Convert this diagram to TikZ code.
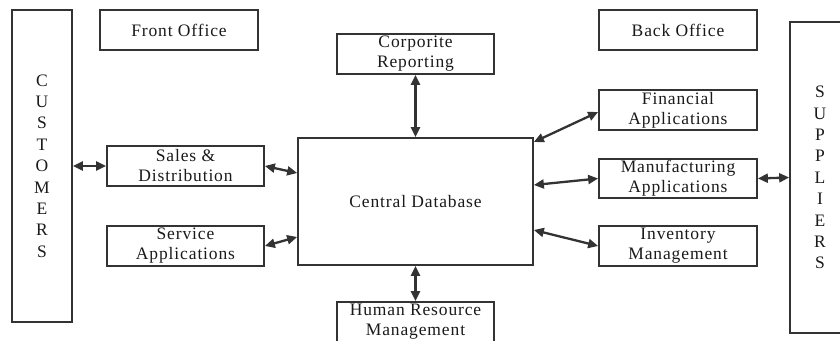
\documentclass[tikz,border=0pt]{standalone}
\usepackage{fontspec}
\setmainfont[LetterSpace=5]{Liberation Serif}
\usetikzlibrary{arrows.meta}
\definecolor{ln}{HTML}{333333}
\definecolor{tx}{HTML}{1A1A1A}
\begin{document}
\begin{tikzpicture}[x=1pt,y=-1pt,
  box/.style={draw=ln,line width=1.7pt,fill=white,inner sep=0pt,align=center,text=tx,
    font=\fontsize{17.5}{20}\selectfont},
  wbox/.style={box,minimum width=157pt,minimum height=40pt},
  vbox/.style={box,minimum width=60pt,font=\fontsize{17.5}{21.4}\selectfont},
  link/.style={draw=ln,line width=2.3pt,{Triangle[length=10pt,width=9pt]}-{Triangle[length=10pt,width=9pt]}}]
\useasboundingbox (0,0) rectangle (840,340);
\clip (0,0) rectangle (840,340);
\node[vbox,minimum height=312pt] (cust) at (42,166) {C\\U\\S\\T\\O\\M\\E\\R\\S};
\node[wbox,minimum width=158pt] (front) at (179,30) {Front Office};
\node[wbox] (sales) at (185.5,166) {Sales \&\\Distribution};
\node[wbox] (service) at (185.5,246) {Service\\Applications};
\node[box,minimum width=235pt,minimum height=127pt] (central) at (415.5,201.5) {Central Database};
\node[wbox] (corp) at (415.5,54) {Corporite\\Reporting};
\node[wbox] (hr) at (415.5,322) {Human Resource\\Management};
\node[wbox,minimum width=158pt] (back) at (678,30) {Back Office};
\node[wbox,minimum width=158pt] (fin) at (678,110) {Financial\\Applications};
\node[wbox,minimum width=158pt,minimum height=39pt] (manu) at (678,178.5) {Manufacturing\\Applications};
\node[wbox,minimum width=158pt] (inv) at (678,246) {Inventory\\Management};
\node[vbox,minimum height=311pt] (supp) at (820,177.5) {S\\U\\P\\P\\L\\I\\E\\R\\S};
\draw[link] (cust.east) -- (sales.west);
\draw[link] (sales.east) -- ([yshift=28.5pt]central.west);
\draw[link] (service.east) -- ([yshift=-35.5pt]central.west);
\draw[link] (corp.south) -- (central.north);
\draw[link] (central.south) -- (hr.north);
\draw[link] ([yshift=59.5pt]central.east) -- ([yshift=-2pt]fin.west);
\draw[link] ([yshift=16.5pt]central.east) -- (manu.west);
\draw[link] ([yshift=-28.5pt]central.east) -- (inv.west);
\draw[link] (manu.east) -- (supp.west);
\end{tikzpicture}
\end{document}
